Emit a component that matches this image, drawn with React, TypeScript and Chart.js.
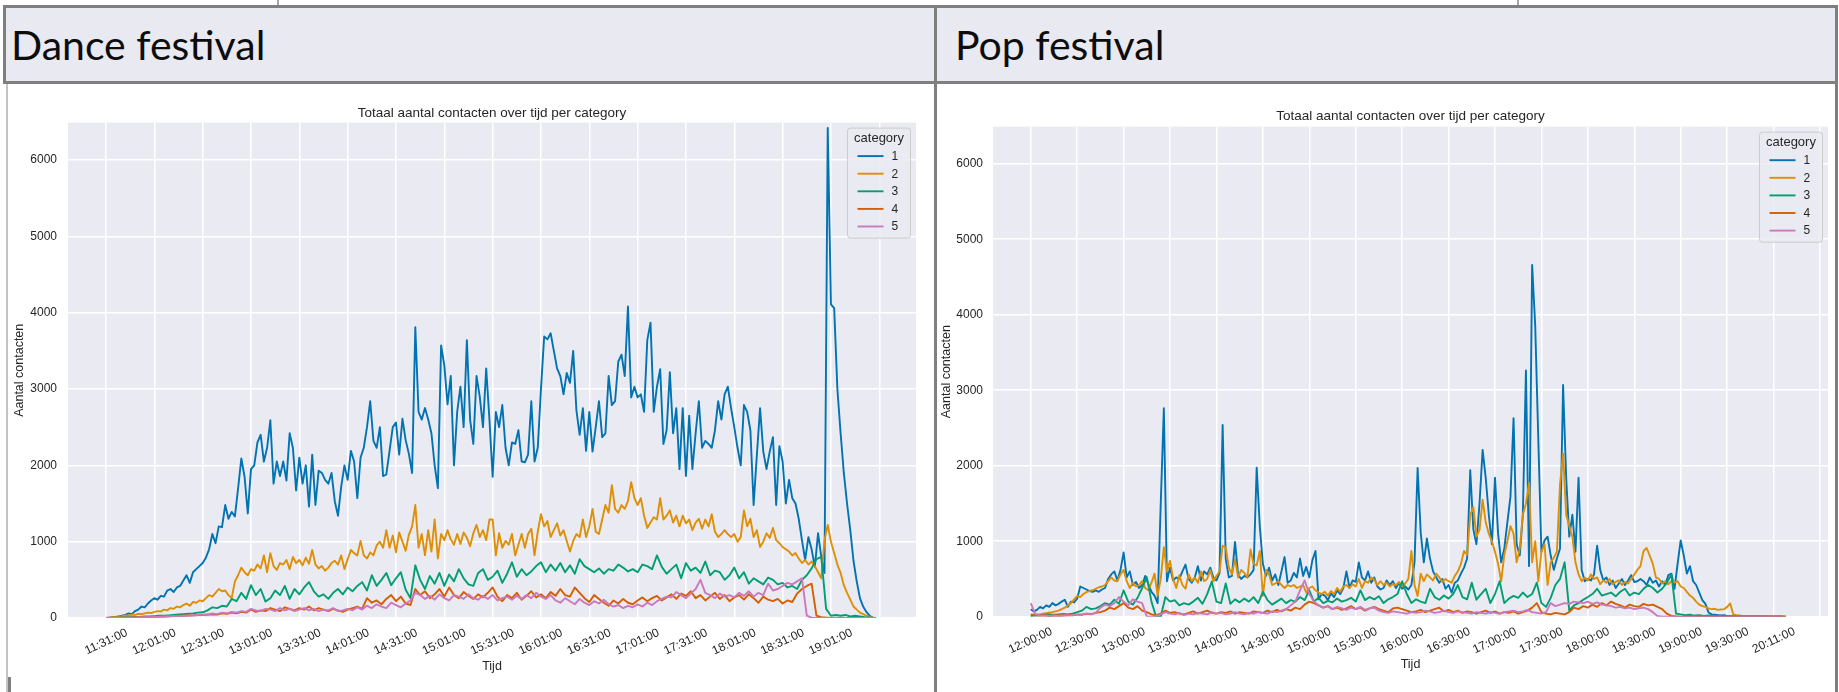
import React, { useEffect, useRef } from "react";
import { Chart, registerables } from "chart.js";

Chart.register(...registerables);

// ---------- data ----------
const CATEGORIES = ["1", "2", "3", "4", "5"];
const CAT_COLORS = ["#0173B2", "#DE8F05", "#029E73", "#D55E00", "#CC78BC"];
const TICK_EVERY = 30;
const Y_TICKS = [0, 1000, 2000, 3000, 4000, 5000, 6000];

const DANCE_TICK_LABELS = [
  "11:31:00", "12:01:00", "12:31:00", "13:01:00", "13:31:00", "14:01:00", "14:31:00", "15:01:00",
  "15:31:00", "16:01:00", "16:31:00", "17:01:00", "17:31:00", "18:01:00", "18:31:00", "19:01:00",
];
const POP_TICK_LABELS = [
  "12:00:00", "12:30:00", "13:00:00", "13:30:00", "14:00:00", "14:30:00", "15:00:00", "15:30:00",
  "16:00:00", "16:30:00", "17:00:00", "17:30:00", "18:00:00", "18:30:00", "19:00:00", "19:30:00", "20:11:00",
];

// minutes between consecutive stored values, per category
const DANCE_STEPS = [2, 2, 3, 3, 3];
const POP_STEPS = [2, 2, 3, 3, 3];

const danceCat1 = [
  0, 5, 10, 15, 20, 30, 40, 60, 50, 90, 110, 150, 140, 190, 230, 260, 240, 290, 280, 360,
  380, 340, 400, 420, 490, 560, 460, 600, 640, 680, 720, 790, 900, 1100, 980, 1200, 1190, 1480, 1300, 1390,
  1330, 1700, 2090, 1850, 1370, 1950, 2000, 2300, 2400, 2050, 2230, 2590, 1760, 2050, 1860, 2050, 1800, 2420, 2230, 1670,
  2100, 1760, 2000, 1460, 2140, 1480, 1930, 1900, 1810, 1760, 1900, 1530, 1340, 1720, 2000, 1810, 2190, 2050, 1570, 2100,
  2230, 2500, 2840, 2320, 2230, 2500, 1860, 1880, 2190, 2500, 2560, 2140, 2610, 2330, 2150, 1900, 3810, 2700, 2600, 2750,
  2600, 2420, 2000, 1700, 3570, 3310, 2800, 3170, 2000, 2700, 3030, 2500, 3640, 2600, 2280, 3170, 2900, 2500, 3270, 2600,
  1850, 2700, 2500, 2790, 2230, 2000, 2300, 2280, 2460, 2050, 2040, 2140, 2840, 2050, 2230, 3000, 3690, 3650, 3730, 3500,
  3270, 3170, 2930, 3210, 3080, 3500, 2720, 2400, 2750, 2190, 2700, 2180, 2500, 2840, 2370, 2420, 3170, 2790, 2840, 3360,
  3450, 3170, 4080, 2890, 3030, 2890, 2930, 2700, 3640, 3870, 2700, 3030, 3260, 2280, 2460, 3220, 2420, 2750, 1950, 2750,
  1860, 2650, 1950, 2420, 2840, 2230, 2320, 2280, 2230, 2460, 2840, 2600, 2930, 3030, 2750, 2500, 2230, 2000, 2790, 2700,
  2460, 1480, 2130, 2750, 2180, 1950, 2180, 2370, 1480, 2250, 2050, 1500, 1810, 1570, 1500, 1300, 1020, 760, 1060, 900,
  670, 1110, 800, 590, 6420, 4110, 4060, 3000, 2420, 1900, 1500, 1150, 750, 480, 260, 150, 80, 30, 5, 0,
];
const danceCat2 = [
  0, 5, 10, 15, 20, 25, 35, 30, 45, 40, 55, 50, 60, 70, 65, 80, 90, 85, 110, 100,
  130, 120, 150, 140, 170, 190, 160, 210, 200, 230, 220, 260, 300, 280, 330, 380, 350, 360, 300, 260,
  480, 560, 660, 600, 560, 640, 620, 700, 650, 820, 600, 850, 680, 630, 720, 700, 760, 640, 800, 720,
  760, 690, 790, 710, 890, 700, 650, 680, 620, 660, 720, 750, 700, 820, 640, 770, 890, 850, 820, 1010,
  820, 780, 860, 820, 950, 1000, 920, 1150, 920, 1080, 860, 1120, 1000, 880, 1090, 1200, 1480, 920, 1100, 820,
  1150, 870, 1290, 780, 1100, 1020, 1150, 1030, 960, 1100, 970, 1120, 1050, 940, 1110, 1220, 1060, 1150, 1020, 1290,
  1290, 820, 1110, 920, 1010, 960, 1100, 820, 960, 1100, 920, 1100, 1170, 820, 1130, 1360, 1200, 1270, 1060, 1150,
  1240, 1080, 1150, 1010, 870, 1010, 1100, 1060, 1290, 1060, 1200, 1430, 1130, 1100, 1290, 1480, 1380, 1740, 1430, 1380,
  1480, 1430, 1530, 1780, 1570, 1480, 1570, 1340, 1180, 1250, 1320, 1290, 1570, 1290, 1340, 1410, 1250, 1340, 1200, 1340,
  1240, 1290, 1150, 1250, 1300, 1170, 1290, 1200, 1360, 1130, 1060, 1100, 1150, 1100, 1060, 1100, 1000, 1060, 1410, 1200,
  1300, 1060, 1150, 930, 1000, 1110, 1050, 1180, 1020, 980, 930, 900, 870, 820, 850, 780, 720, 760, 700, 740,
  680, 600, 520, 1020, 1220, 1000, 850, 700, 590, 430, 330, 240, 150, 110, 70, 50, 30, 15, 5, 0,
];
const danceCat3 = [
  0, 0, 5, 5, 10, 10, 15, 15, 20, 20, 25, 30, 30, 35, 40, 45, 50, 55, 60, 70,
  75, 100, 140, 130, 160, 150, 250, 220, 330, 250, 430, 300, 380, 215, 260, 360, 300, 420, 250, 380,
  310, 400, 470, 350, 280, 310, 250, 330, 380, 310, 400, 350, 420, 470, 360, 560, 420, 500, 590, 430,
  520, 600, 370, 260, 690, 500, 380, 550, 450, 590, 420, 570, 480, 640, 520, 440, 420, 590, 640, 500,
  540, 620, 460, 580, 730, 540, 640, 560, 610, 680, 730, 600, 700, 620, 720, 600, 690, 580, 770, 680,
  640, 600, 650, 580, 640, 620, 700, 660, 610, 640, 600, 700, 680, 640, 820, 670, 580, 640, 700, 520,
  720, 620, 660, 590, 740, 560, 620, 600, 500, 560, 660, 520, 600, 450, 520, 480, 440, 530, 500, 440,
  460, 400, 420, 380, 500, 560, 650, 770, 800, 120, 30, 40, 30, 40, 20, 30, 20, 10, 5, 0,
];
const danceCat4 = [
  0, 0, 0, 5, 5, 5, 10, 10, 10, 15, 15, 20, 20, 25, 25, 30, 30, 35, 35, 40,
  40, 45, 50, 45, 60, 55, 70, 60, 80, 70, 110, 80, 100, 90, 130, 110, 90, 140, 120, 100,
  130, 110, 150, 100, 130, 110, 90, 120, 100, 80, 110, 130, 150, 120, 260, 200, 230, 180, 250, 300,
  220, 280, 190, 170, 380, 300, 350, 260, 310, 380, 280, 400, 300, 260, 340, 290, 250, 310, 270, 330,
  400, 280, 220, 300, 260, 330, 240, 290, 350, 270, 310, 260, 340, 290, 380, 300, 280, 400, 330, 260,
  210, 300, 250, 200, 160, 230, 190, 250, 200, 180, 230, 270, 220, 260, 290, 230, 270, 310, 250, 320,
  290, 350, 260, 300, 230, 280, 330, 250, 300, 220, 270, 300, 240, 310, 260, 200, 280, 240, 220, 250,
  190, 230, 210, 320, 380, 420, 450, 30, 10, 5, 0, 0, 0, 0, 0, 0, 0, 0, 0, 0,
];
const danceCat5 = [
  0, 0, 0, 0, 5, 5, 5, 10, 10, 10, 15, 15, 20, 20, 25, 25, 30, 30, 35, 40,
  45, 40, 60, 50, 70, 60, 80, 70, 90, 80, 120, 100, 90, 120, 110, 90, 130, 100, 120, 90,
  110, 130, 100, 120, 90, 110, 100, 130, 90, 100, 120, 100, 140, 110, 160, 130, 180, 150, 130, 200,
  170, 140, 190, 230, 330, 300, 250, 290, 240, 310, 260, 230, 300, 280, 250, 310, 260, 240, 290, 250,
  300, 230, 260, 280, 240, 290, 250, 300, 260, 330, 280, 250, 300, 230, 200, 260, 220, 180, 250, 200,
  170, 220, 190, 240, 180, 150, 170, 130, 160, 140, 180, 150, 200, 170, 220, 250, 280, 270, 340, 300,
  260, 320, 380, 500, 330, 300, 260, 320, 280, 300, 270, 330, 290, 350, 280, 330, 300, 450, 360, 380,
  420, 460, 440, 480, 520, 30, 5, 0, 0, 0, 0, 0, 0, 0, 0, 0, 0, 0, 0, 0,
];

const popCat1 = [
  100, 70, 90, 130, 110, 150, 130, 180, 150, 170, 200, 225, 130, 200, 190, 240, 400, 380, 360, 340,
  330, 350, 330, 360, 380, 500, 560, 600, 480, 620, 850, 520, 600, 420, 460, 380, 420, 540, 430, 330,
  280, 180, 1500, 2760, 470, 650, 480, 520, 500, 600, 690, 500, 450, 520, 670, 480, 600, 560, 650, 520,
  480, 580, 2540, 770, 520, 540, 990, 560, 500, 540, 520, 560, 620, 1975, 1200, 700, 540, 650, 480, 560,
  420, 600, 790, 450, 480, 580, 520, 770, 540, 660, 520, 750, 870, 230, 300, 280, 220, 310, 260, 350,
  300, 380, 600, 380, 480, 460, 720, 520, 480, 600, 450, 520, 400, 360, 380, 480, 420, 470, 380, 450,
  370, 400, 360, 420, 720, 1970, 1110, 720, 1035, 770, 600, 520, 450, 500, 370, 420, 320, 450, 480, 570,
  650, 770, 1940, 1160, 960, 1500, 2210, 1840, 1350, 960, 1840, 1100, 720, 900, 1250, 1590, 2630, 960, 810, 1350,
  3260, 670, 4660, 3850, 2340, 860, 1010, 1060, 810, 620, 770, 900, 3070, 1840, 1060, 1350, 860, 1840, 620, 470,
  500, 480, 560, 940, 620, 480, 520, 420, 480, 380, 440, 500, 420, 480, 550, 460, 470, 500, 470, 420,
  520, 450, 480, 400, 470, 420, 550, 570, 370, 700, 1010, 810, 570, 670, 470, 420, 320, 220, 170, 55,
  30, 25, 20, 15, 20, 10, 8, 6, 5, 5, 4, 4, 3, 3, 3, 2, 2, 2, 2, 2,
  2, 2, 2, 2, 1,
];
const popCat2 = [
  20, 25, 30, 30, 40, 45, 55, 60, 70, 80, 100, 120, 150, 180, 230, 275, 260, 300, 325, 340,
  350, 370, 390, 400, 420, 470, 520, 480, 470, 560, 620, 470, 380, 450, 400, 420, 470, 380, 350, 450,
  570, 280, 500, 920, 600, 740, 500, 380, 550, 420, 370, 560, 470, 520, 450, 600, 470, 500, 620, 470,
  540, 600, 940, 920, 650, 560, 760, 520, 620, 580, 520, 890, 700, 680, 870, 275, 620, 560, 420, 440,
  470, 420, 380, 420, 400, 420, 380, 400, 420, 320, 380, 400, 350, 320, 300, 330, 280, 340, 300, 380,
  330, 400, 420, 380, 430, 400, 500, 380, 470, 450, 520, 490, 420, 470, 420, 450, 400, 430, 420, 460,
  400, 440, 500, 870, 420, 275, 570, 470, 560, 520, 480, 570, 520, 460, 500, 470, 450, 540, 600, 700,
  870, 820, 1350, 1450, 1060, 1150, 1550, 1250, 1100, 1000, 860, 700, 470, 820, 1000, 1200, 1100, 720, 900, 1350,
  1500, 1770, 720, 1000, 470, 860, 960, 420, 720, 780, 860, 1750, 2160, 1350, 1200, 1060, 720, 560, 470, 520,
  480, 560, 500, 520, 430, 480, 450, 500, 430, 460, 480, 420, 460, 440, 500, 560, 620, 670, 870, 910,
  810, 700, 520, 500, 440, 470, 430, 470, 450, 470, 400, 380, 330, 280, 250, 200, 160, 140, 130, 110,
  100, 105, 90, 95, 100, 130, 175, 30, 20, 15, 10, 8, 6, 5, 4, 4, 3, 3, 3, 3,
  2, 2, 2, 2, 2,
];
const popCat3 = [
  10, 15, 20, 25, 30, 25, 30, 35, 30, 40, 60, 80, 130, 100, 110, 140, 180, 160, 225, 170,
  350, 200, 160, 250, 380, 525, 200, 0, 0, 260, 200, 220, 150, 180, 160, 200, 250, 170, 300, 465,
  200, 180, 440, 170, 230, 190, 240, 200, 260, 180, 330, 220, 160, 200, 240, 180, 220, 200, 260, 220,
  350, 200, 250, 180, 210, 190, 240, 200, 220, 250, 200, 350, 220, 260, 230, 270, 180, 230, 260, 300,
  470, 300, 180, 230, 200, 180, 370, 260, 225, 280, 240, 300, 420, 260, 230, 450, 225, 300, 370, 180,
  300, 470, 180, 240, 275, 250, 320, 260, 300, 450, 180, 130, 250, 420, 500, 720, 80, 150, 180, 225,
  260, 300, 370, 280, 300, 320, 270, 330, 370, 280, 320, 300, 370, 420, 380, 320, 370, 450, 560, 40,
  30, 20, 25, 15, 20, 10, 15, 10, 8, 5, 5, 4, 3, 3, 2, 2, 2, 2, 2, 1,
  1, 1, 1,
];
const popCat4 = [
  30, 20, 15, 20, 10, 15, 20, 15, 25, 20, 30, 25, 40, 35, 50, 60, 80, 120, 100, 140,
  180, 120, 100, 140, 80, 60, 30, 20, 40, 80, 50, 60, 40, 30, 50, 70, 40, 60, 80, 50,
  40, 60, 50, 70, 40, 60, 50, 40, 70, 60, 50, 80, 60, 90, 70, 100, 80, 120, 100, 160,
  200, 180, 150, 120, 140, 100, 120, 90, 110, 140, 100, 120, 80, 110, 130, 100, 80, 60, 110, 120,
  100, 80, 60, 70, 90, 60, 80, 100, 120, 70, 90, 60, 80, 50, 70, 60, 40, 60, 80, 50,
  70, 40, 60, 50, 70, 40, 60, 80, 120, 180, 60, 40, 30, 50, 40, 30, 60, 120, 100, 140,
  120, 160, 130, 180, 150, 200, 170, 150, 120, 160, 140, 130, 170, 150, 160, 130, 100, 40, 10, 5,
  0, 0, 0, 0, 0, 0, 0, 0, 0, 0, 0, 0, 0, 0, 0, 0, 0, 0, 0, 0,
  0, 0, 0,
];
const popCat5 = [
  180, 30, 20, 15, 10, 15, 10, 20, 15, 20, 25, 30, 40, 30, 50, 120, 160, 140, 180, 260,
  200, 150, 230, 200, 180, 0, 0, 10, 30, 60, 40, 30, 50, 20, 40, 30, 50, 40, 30, 60,
  40, 50, 30, 40, 60, 40, 30, 50, 40, 60, 50, 40, 70, 60, 80, 100, 150, 200, 350, 480,
  300, 200, 150, 120, 140, 100, 130, 110, 90, 120, 100, 130, 90, 110, 120, 80, 60, 50, 70, 60,
  50, 40, 60, 50, 60, 80, 70, 50, 60, 80, 60, 50, 70, 60, 50, 40, 60, 50, 40, 60,
  50, 40, 60, 70, 80, 60, 70, 90, 60, 50, 40, 60, 180, 140, 160, 180, 170, 200, 190, 180,
  200, 170, 190, 160, 150, 140, 120, 130, 110, 120, 100, 110, 120, 100, 60, 10, 0, 0, 0, 0,
  0, 0, 0, 0, 0, 0, 0, 0, 0, 0, 0, 0, 0, 0, 0, 0, 0, 0, 0, 0,
  0, 0, 0,
];

const DANCE_SERIES = [danceCat1, danceCat2, danceCat3, danceCat4, danceCat5];
const POP_SERIES = [popCat1, popCat2, popCat3, popCat4, popCat5];

const CHART_TITLE = "Totaal aantal contacten over tijd per category";
const X_TITLE = "Tijd";
const Y_TITLE = "Aantal contacten";
const LEGEND_TITLE = "category";

// ---------- styling ----------
const FONT = "'Liberation Sans', Arial, Helvetica, sans-serif";
const TEXT = "#262626";
const PLOT_BG = "#EAEAF2";

const plotBgPlugin = {
  id: "plotBg",
  beforeDraw(chart: any) {
    const { ctx, chartArea } = chart;
    ctx.save();
    ctx.fillStyle = PLOT_BG;
    ctx.fillRect(chartArea.left, chartArea.top, chartArea.right - chartArea.left, chartArea.bottom - chartArea.top);
    ctx.restore();
  },
};

const legendPlugin = {
  id: "sbLegend",
  afterDatasetsDraw(chart: any) {
    const { ctx, chartArea } = chart;
    const w = 63;
    const h = 110;
    const x0 = chartArea.right - 5.5 - w;
    const y0 = chartArea.top + 5.5;
    ctx.save();
    ctx.beginPath();
    const r = 3;
    ctx.moveTo(x0 + r, y0);
    ctx.lineTo(x0 + w - r, y0);
    ctx.arcTo(x0 + w, y0, x0 + w, y0 + r, r);
    ctx.lineTo(x0 + w, y0 + h - r);
    ctx.arcTo(x0 + w, y0 + h, x0 + w - r, y0 + h, r);
    ctx.lineTo(x0 + r, y0 + h);
    ctx.arcTo(x0, y0 + h, x0, y0 + h - r, r);
    ctx.lineTo(x0, y0 + r);
    ctx.arcTo(x0, y0, x0 + r, y0, r);
    ctx.closePath();
    ctx.fillStyle = "rgba(234,234,242,0.85)";
    ctx.fill();
    ctx.strokeStyle = "#cccccc";
    ctx.lineWidth = 1;
    ctx.stroke();

    ctx.fillStyle = TEXT;
    ctx.textBaseline = "middle";
    ctx.textAlign = "center";
    ctx.font = `13px ${FONT}`;
    ctx.fillText(LEGEND_TITLE, x0 + w / 2, y0 + 10.5);
    ctx.textAlign = "left";
    ctx.font = `12px ${FONT}`;
    chart.data.datasets.forEach((ds: any, k: number) => {
      const y = y0 + 28 + k * 17.6;
      ctx.strokeStyle = ds.borderColor;
      ctx.lineWidth = 1.9;
      ctx.beginPath();
      ctx.moveTo(x0 + 10, y);
      ctx.lineTo(x0 + 36, y);
      ctx.stroke();
      ctx.fillStyle = TEXT;
      ctx.fillText(ds.label, x0 + 44, y + 0.5);
    });
    ctx.restore();
  },
};

type Geo = {
  series: number[][];
  steps: number[];
  tickLabels: string[];
  xMin: number;
  xMax: number;
  yMax: number;
  yAxisWidth: number;
  xAxisHeight: number;
  padRight: number;
  titlePadTop: number;
  titlePadBottom: number;
  yTitlePad: number;
  xTitlePad: number;
  yTickPad: number;
};

function buildChart(canvas: HTMLCanvasElement, g: Geo) {
  const datasets = g.series.map((vals, k) => ({
    label: CATEGORIES[k],
    data: vals.map((v, j) => ({ x: j * g.steps[k], y: v })),
    borderColor: CAT_COLORS[k],
    backgroundColor: CAT_COLORS[k],
    borderWidth: 1.9,
    pointRadius: 0,
    tension: 0,
    fill: false,
    borderJoinStyle: "round" as const,
    order: CATEGORIES.length - 1 - k,
  }));
  const xTickValues: number[] = [];
  for (let v = 0; v <= g.xMax; v += TICK_EVERY) xTickValues.push(v);
  const tickFont = { family: FONT, size: 12 };
  return new Chart(canvas, {
    type: "line",
    data: { datasets },
    plugins: [plotBgPlugin, legendPlugin],
    options: {
      animation: false,
      responsive: false,
      events: [],
      layout: { padding: { left: 0, right: g.padRight, top: 0, bottom: 0 } },
      plugins: {
        legend: { display: false },
        tooltip: { enabled: false },
        title: {
          display: true,
          text: CHART_TITLE,
          fullSize: false,
          color: TEXT,
          font: { family: FONT, size: 13.5, weight: "normal" },
          padding: { top: g.titlePadTop, bottom: g.titlePadBottom },
        },
      },
      scales: {
        x: {
          type: "linear",
          min: g.xMin,
          max: g.xMax,
          border: { display: false },
          grid: { color: "#ffffff", lineWidth: 1.5, drawTicks: false },
          afterBuildTicks: (s: any) => {
            s.ticks = xTickValues.map((v) => ({ value: v }));
          },
          ticks: {
            autoSkip: false,
            minRotation: 25,
            maxRotation: 25,
            labelOffset: 21,
            padding: 7.6,
            color: TEXT,
            font: tickFont,
            callback: (v: any) => {
              const idx = Math.round(Number(v) / TICK_EVERY);
              return g.tickLabels[idx] ?? "";
            },
          },
          title: {
            display: true,
            text: X_TITLE,
            color: TEXT,
            font: { family: FONT, size: 12.5 },
            padding: { top: 0, bottom: g.xTitlePad },
          },
          afterFit: (s: any) => {
            s.height = g.xAxisHeight;
          },
        },
        y: {
          type: "linear",
          min: 0,
          max: g.yMax,
          border: { display: false },
          grid: { color: "#ffffff", lineWidth: 1.5, drawTicks: false },
          afterBuildTicks: (s: any) => {
            s.ticks = Y_TICKS.map((v) => ({ value: v }));
          },
          ticks: {
            autoSkip: false,
            padding: g.yTickPad,
            color: TEXT,
            font: tickFont,
            callback: (v: any) => String(v),
          },
          title: {
            display: true,
            text: Y_TITLE,
            color: TEXT,
            font: { family: FONT, size: 12.5 },
            padding: { top: g.yTitlePad, bottom: 0 },
          },
          afterFit: (s: any) => {
            s.width = g.yAxisWidth;
          },
        },
      },
    } as any,
  });
}

const GREY = "#7f7f7f";

function Line(props: { x: number; y: number; w: number; h: number; c?: string }) {
  return (
    <div
      style={{
        position: "absolute",
        left: props.x,
        top: props.y,
        width: props.w,
        height: props.h,
        background: props.c ?? GREY,
      }}
    />
  );
}

export default function App() {
  const danceRef = useRef<HTMLCanvasElement>(null);
  const popRef = useRef<HTMLCanvasElement>(null);

  useEffect(() => {
    const c1 = buildChart(danceRef.current!, {
      series: DANCE_SERIES,
      steps: DANCE_STEPS,
      tickLabels: DANCE_TICK_LABELS,
      xMin: -23.6,
      xMax: 502.8,
      yMax: 6490,
      yAxisWidth: 68,
      xAxisHeight: 74,
      padRight: 16,
      titlePadTop: 18.9,
      titlePadBottom: 1.5,
      yTitlePad: 12.5,
      xTitlePad: 17.5,
      yTickPad: 11,
    });
    const c2 = buildChart(popRef.current!, {
      series: POP_SERIES,
      steps: POP_STEPS,
      tickLabels: POP_TICK_LABELS,
      xMin: -24.4,
      xMax: 515.2,
      yMax: 6490,
      yAxisWidth: 56,
      xAxisHeight: 75.3,
      padRight: 7,
      titlePadTop: 21.9,
      titlePadBottom: 2.6,
      yTitlePad: 2.5,
      xTitlePad: 19.5,
      yTickPad: 10,
    });
    return () => {
      c1.destroy();
      c2.destroy();
    };
  }, []);

  const headerText: React.CSSProperties = {
    position: "absolute",
    top: 24,
    fontFamily: "Lato, 'Open Sans', sans-serif",
    fontSize: 41,
    lineHeight: "42px",
    color: "#0d0d0d",
    whiteSpace: "nowrap",
  };

  return (
    <div
      style={{
        position: "absolute",
        left: 0,
        top: 0,
        width: 1839,
        height: 692,
        background: "#ffffff",
        overflow: "hidden",
      }}
    >
      {/* header band */}
      <div style={{ position: "absolute", left: 3, top: 5, width: 1835, height: 79, background: "#E9E9F1" }} />
      <Line x={3} y={5} w={1835} h={3} />
      <Line x={3} y={81} w={1835} h={3} />
      <Line x={3} y={5} w={3} h={79} />
      <Line x={934} y={5} w={3} h={687} />
      <Line x={1835} y={5} w={3} h={687} />
      <Line x={6} y={84} w={1.5} h={608} c="#c4c4c4" />
      <Line x={8} y={677} w={3} h={15} />
      <Line x={277} y={0} w={1.5} h={5} c="#a6a6a6" />
      <Line x={1517} y={0} w={1.5} h={5} c="#a6a6a6" />
      <div style={{ ...headerText, left: 11 }}>Dance festival</div>
      <div style={{ ...headerText, left: 955 }}>Pop festival</div>

      <canvas
        ref={danceRef}
        width={932}
        height={606}
        style={{ position: "absolute", left: 0, top: 86, width: 932, height: 606, display: "block" }}
      />
      <canvas
        ref={popRef}
        width={898}
        height={606}
        style={{ position: "absolute", left: 937, top: 86, width: 898, height: 606, display: "block" }}
      />
    </div>
  );
}
